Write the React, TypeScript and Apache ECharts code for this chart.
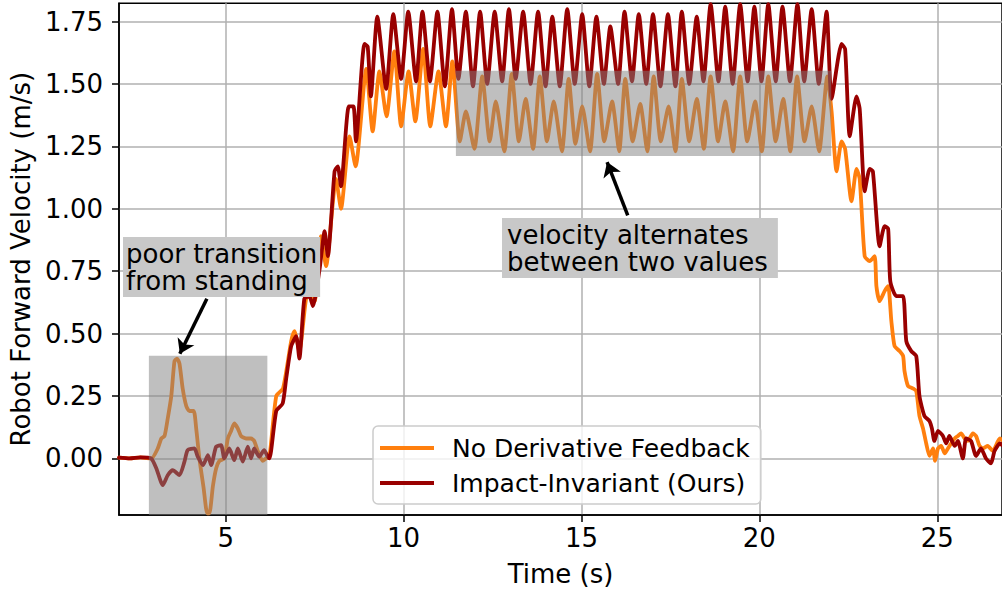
import React, { useEffect, useRef } from "react";
import * as echarts from "echarts";

// ---------- data (time s, velocity m/s) ----------
const orangeStanding: [number, number][] = [
  [2.0, 0.003], [2.3, 0.0], [2.6, 0.004], [2.91, 0.0], [3.09, 0.04], [3.19, 0.08], [3.28, 0.09],
  [3.37, 0.16], [3.47, 0.25], [3.56, 0.39], [3.63, 0.4], [3.7, 0.38], [3.79, 0.28], [3.89, 0.21],
  [3.98, 0.19], [4.1, 0.19], [4.17, 0.12], [4.26, 0.0], [4.38, -0.12], [4.48, -0.22], [4.54, -0.22],
  [4.64, -0.11], [4.73, -0.04], [4.82, -0.01], [4.96, 0.0], [5.06, 0.08], [5.15, 0.11], [5.24, 0.14],
  [5.34, 0.12], [5.43, 0.09], [5.57, 0.08], [5.71, 0.08], [5.8, 0.07], [5.9, 0.03], [6.04, -0.01], [6.13, 0.0],
];
const orangeRampUp: [number, number][] = [
  [6.23, 0.01], [6.42, 0.25], [6.61, 0.28], [6.84, 0.47], [6.93, 0.51], [7.07, 0.43], [7.26, 0.64],
  [7.4, 0.67], [7.5, 0.63], [7.68, 0.89], [7.82, 0.77], [8.1, 1.12], [8.24, 1.0], [8.48, 1.29],
  [8.65, 1.17], [8.95, 1.56], [9.13, 1.31],
];
const orangeCruise: [number, number][] = [
  [9.32, 1.55], [9.52, 1.37], [9.74, 1.63], [9.93, 1.33], [10.14, 1.55], [10.33, 1.35], [10.55, 1.64],
  [10.75, 1.33], [10.98, 1.55], [11.19, 1.33], [11.37, 1.59], [11.58, 1.27], [11.75, 1.39], [11.99, 1.24],
  [12.21, 1.53], [12.42, 1.27], [12.59, 1.43], [12.83, 1.23], [13.04, 1.54], [13.24, 1.27], [13.43, 1.44],
  [13.64, 1.24], [13.83, 1.53], [14.03, 1.27], [14.22, 1.43], [14.45, 1.23], [14.64, 1.52], [14.83, 1.26],
  [15.02, 1.41], [15.24, 1.23], [15.44, 1.54], [15.64, 1.27], [15.86, 1.43], [16.06, 1.23], [16.23, 1.52],
  [16.44, 1.27], [16.65, 1.42], [16.85, 1.23], [17.03, 1.53], [17.23, 1.27], [17.45, 1.41], [17.64, 1.23],
  [17.82, 1.52], [18.03, 1.27], [18.24, 1.44], [18.44, 1.24], [18.63, 1.53], [18.84, 1.27], [19.04, 1.43],
  [19.26, 1.23], [19.46, 1.53], [19.66, 1.27], [19.88, 1.43], [20.07, 1.23], [20.25, 1.53], [20.46, 1.27],
  [20.67, 1.44], [20.87, 1.23], [21.06, 1.53], [21.27, 1.27], [21.47, 1.41], [21.68, 1.23], [21.91, 1.53],
];
const orangeRampDown: [number, number][] = [
  [22.03, 1.39], [22.17, 1.15], [22.31, 1.27], [22.41, 1.24], [22.59, 1.03], [22.73, 1.16], [22.82, 1.12],
  [22.96, 0.81], [23.1, 0.79], [23.24, 0.81], [23.29, 0.69], [23.38, 0.63], [23.52, 0.67], [23.62, 0.69],
  [23.71, 0.55], [23.8, 0.45], [23.94, 0.43], [24.04, 0.41], [24.08, 0.35], [24.18, 0.29], [24.32, 0.28],
  [24.41, 0.27], [24.5, 0.17], [24.6, 0.12], [24.69, 0.06], [24.78, 0.01], [24.88, 0.04], [24.94, -0.01],
  [25.02, 0.04], [25.11, 0.05], [25.21, 0.02], [25.3, 0.04], [25.39, 0.06], [25.49, 0.08], [25.58, 0.09],
  [25.67, 0.1], [25.77, 0.08], [25.86, 0.07], [26.0, 0.1], [26.09, 0.09], [26.19, 0.05], [26.28, 0.04],
  [26.42, 0.05], [26.56, 0.03], [26.76, 0.08], [26.85, 0.07],
];

const redStanding: [number, number][] = [
  [2.0, 0.003], [2.3, 0.0], [2.6, 0.004], [2.9, 0.0], [3.05, -0.04], [3.23, -0.107], [3.37, -0.067],
  [3.51, -0.047], [3.7, -0.067], [3.84, -0.013], [3.93, 0.033], [4.12, 0.04], [4.21, 0.008], [4.36, -0.027],
  [4.5, 0.013], [4.59, -0.027], [4.73, 0.047], [4.87, 0.053], [4.96, 0.0], [5.1, 0.04], [5.24, -0.007],
  [5.34, 0.04], [5.48, -0.013], [5.62, 0.047], [5.71, 0.0], [5.8, 0.04], [5.94, 0.007], [6.08, 0.033], [6.18, 0.007],
];
const redRampUp: [number, number][] = [
  [6.23, 0.0], [6.42, 0.19], [6.6, 0.22], [6.7, 0.32], [6.84, 0.45], [6.98, 0.49], [7.07, 0.4],
  [7.21, 0.64], [7.35, 0.65], [7.45, 0.61], [7.64, 0.76], [7.78, 0.91], [7.87, 0.81], [8.06, 1.15],
  [8.15, 1.17], [8.24, 1.09], [8.46, 1.41], [8.59, 1.41], [8.66, 1.27], [8.9, 1.66], [8.99, 1.65], [9.08, 1.45],
];
const redCruise: [number, number][] = [
  [9.26, 1.77], [9.51, 1.48], [9.71, 1.78], [9.93, 1.52], [10.13, 1.79], [10.35, 1.51], [10.53, 1.79],
  [10.74, 1.51], [10.95, 1.79], [11.16, 1.49], [11.36, 1.8], [11.54, 1.52], [11.75, 1.79], [11.95, 1.49],
  [12.15, 1.79], [12.35, 1.5], [12.56, 1.79], [12.77, 1.51], [12.96, 1.8], [13.15, 1.52], [13.36, 1.79],
  [13.57, 1.5], [13.78, 1.79], [13.99, 1.49], [14.18, 1.77], [14.39, 1.49], [14.6, 1.8], [14.81, 1.5],
  [15.02, 1.78], [15.22, 1.49], [15.42, 1.77], [15.63, 1.5], [15.81, 1.73], [16.03, 1.5], [16.21, 1.79],
  [16.42, 1.51], [16.61, 1.78], [16.82, 1.5], [17.01, 1.78], [17.22, 1.49], [17.43, 1.78], [17.64, 1.49],
  [17.82, 1.79], [18.03, 1.5], [18.24, 1.77], [18.43, 1.51], [18.63, 1.82], [18.85, 1.51], [19.04, 1.81],
  [19.25, 1.5], [19.46, 1.82], [19.67, 1.51], [19.86, 1.81], [20.06, 1.51], [20.25, 1.82], [20.46, 1.51],
  [20.65, 1.81], [20.86, 1.51], [21.07, 1.82], [21.26, 1.51], [21.47, 1.8], [21.67, 1.5], [21.89, 1.79],
];
const redRampDown: [number, number][] = [
  [22.03, 1.44], [22.31, 1.66], [22.41, 1.64], [22.54, 1.29], [22.73, 1.45], [22.82, 1.4], [22.96, 1.07],
  [23.1, 1.16], [23.19, 1.15], [23.38, 0.85], [23.52, 0.93], [23.62, 0.92], [23.68, 0.71], [23.85, 0.65],
  [24.04, 0.65], [24.13, 0.47], [24.27, 0.43], [24.41, 0.41], [24.5, 0.25], [24.64, 0.17], [24.78, 0.15],
  [24.85, 0.12], [24.92, 0.07], [25.02, 0.11], [25.16, 0.09], [25.25, 0.06], [25.34, 0.09], [25.49, 0.05],
  [25.58, 0.07], [25.72, 0.0], [25.81, 0.08], [25.95, 0.07], [26.09, 0.01], [26.23, 0.04], [26.37, 0.0],
  [26.51, -0.02], [26.61, 0.03], [26.76, 0.06], [26.85, 0.05],
];

const xTicks = [5, 10, 15, 20, 25];
const yTicks = [0, 0.25, 0.5, 0.75, 1.0, 1.25, 1.5, 1.75];
const seriesNames = ["No Derivative Feedback", "Impact-Invariant (Ours)"];

const X_MIN = 2.0;
const X_MAX = 26.82;
const Y_MIN = -0.2265;
const Y_MAX = 1.823;

// highlighted regions: [tStart, vTop, tEnd, vBottom]
const standingBox = [2.84, 0.411, 6.17, Y_MIN];
const alternateBox = [11.47, 1.553, 22.02, 1.211];
// arrows: [tFrom, vFrom, tTo, vTo]
const arrowStanding = [4.47, 0.64, 3.71, 0.419];
const arrowAlternate = [16.3, 0.974, 15.72, 1.187];

const FONT = "DejaVu Sans";
const ORANGE = "#ff7f0e";
const RED = "#990000";

export default function App() {
  const ref = useRef<HTMLDivElement>(null);
  useEffect(() => {
    if (!ref.current) return;
    const chart = echarts.init(ref.current, null, { renderer: "svg" });
    const orangeData = [...orangeStanding, ...orangeRampUp, ...orangeCruise, ...orangeRampDown];
    const redData = [...redStanding, ...redRampUp, ...redCruise, ...redRampDown];
    const option: any = {
      animation: false,
      grid: {
        left: 119,
        top: 3.3,
        right: -2,
        bottom: 75.3,
        show: true,
        borderColor: "#000",
        borderWidth: 1.5,
        backgroundColor: "transparent",
      },
      xAxis: {
        type: "value",
        min: X_MIN,
        max: X_MAX,
        name: "Time (s)",
        nameLocation: "middle",
        nameGap: 46,
        nameTextStyle: { color: "#000", fontSize: 26, fontFamily: FONT },
        axisLine: { show: true, onZero: false, lineStyle: { color: "#000", width: 1.5 } },
        axisTick: { show: true, customValues: xTicks, length: 7, lineStyle: { color: "#000", width: 1.5 } },
        axisLabel: { customValues: xTicks, color: "#000", fontSize: 26, fontFamily: FONT, margin: 10 },
        splitLine: { show: true, lineStyle: { color: "#b0b0b0", width: 1.5 } },
      },
      yAxis: {
        type: "value",
        min: Y_MIN,
        max: Y_MAX,
        name: "Robot Forward Velocity (m/s)",
        nameLocation: "middle",
        nameGap: 83,
        nameTextStyle: { color: "#000", fontSize: 26, fontFamily: FONT },
        axisLine: { show: true, onZero: false, lineStyle: { color: "#000", width: 1.5 } },
        axisTick: { show: true, customValues: yTicks, length: 7, lineStyle: { color: "#000", width: 1.5 } },
        axisLabel: {
          customValues: yTicks,
          color: "#000",
          fontSize: 26,
          fontFamily: FONT,
          margin: 16,
          formatter: (v: number) => v.toFixed(2),
        },
        splitLine: { show: true, lineStyle: { color: "#b0b0b0", width: 1.5 } },
      },
      legend: {
        orient: "vertical",
        left: 373,
        top: 426,
        data: seriesNames,
        icon: "rect",
        itemWidth: 54,
        itemHeight: 4,
        itemGap: 7,
        padding: [8, 11, 7, 7],
        backgroundColor: "rgba(255,255,255,0.8)",
        borderColor: "#cccccc",
        borderWidth: 1.5,
        borderRadius: 5,
        textStyle: { fontSize: 25, fontFamily: FONT, color: "#000", lineHeight: 28, padding: [0, 0, 0, 13] },
      },
      series: [
        {
          name: seriesNames[0],
          type: "line",
          data: orangeData,
          symbol: "none",
          silent: true,
          smooth: 0.2,
          z: 2,
          lineStyle: { color: ORANGE, width: 3.8, cap: "round", join: "round" },
          itemStyle: { color: ORANGE },
        },
        {
          name: seriesNames[1],
          type: "line",
          data: redData,
          symbol: "none",
          silent: true,
          smooth: 0.2,
          z: 3,
          lineStyle: { color: RED, width: 3.8, cap: "round", join: "round" },
          itemStyle: { color: RED },
          markArea: {
            silent: true,
            z: 10,
            itemStyle: { color: "rgba(128,128,128,0.5)" },
            label: { show: false },
            data: [
              [
                { xAxis: standingBox[0], yAxis: standingBox[1] },
                { xAxis: standingBox[2], yAxis: standingBox[3] },
              ],
              [
                { xAxis: alternateBox[0], yAxis: alternateBox[1] },
                { xAxis: alternateBox[2], yAxis: alternateBox[3] },
              ],
            ],
          },
          markLine: {
            silent: true,
            z: 11,
            symbol: ["none", "arrow"],
            symbolSize: 14,
            label: { show: false },
            lineStyle: { color: "#000", width: 3.5, type: "solid" },
            data: [
              [
                { coord: [arrowStanding[0], arrowStanding[1]] },
                { coord: [arrowStanding[2], arrowStanding[3]] },
              ],
              [
                { coord: [arrowAlternate[0], arrowAlternate[1]] },
                { coord: [arrowAlternate[2], arrowAlternate[3]] },
              ],
            ],
          },
        },
      ],
      graphic: [
        {
          type: "text",
          left: 123,
          top: 237,
          z: 100,
          style: {
            text: "poor transition\nfrom standing",
            font: `26px "${FONT}"`,
            fill: "#000",
            backgroundColor: "#c8c8c8",
            padding: [3, 3, 3, 3],
            lineHeight: 27,
          },
        },
        {
          type: "text",
          left: 502,
          top: 218,
          z: 100,
          style: {
            text: "velocity alternates\nbetween two values",
            font: `26px "${FONT}"`,
            fill: "#000",
            backgroundColor: "#c8c8c8",
            padding: [3, 10, 3, 5],
            lineHeight: 27,
          },
        },
      ],
    };
    chart.setOption(option);
    return () => chart.dispose();
  }, []);
  return (
    <div
      ref={ref}
      style={{ position: "fixed", left: 0, top: 0, width: 1002, height: 592, background: "#fff" }}
    />
  );
}
